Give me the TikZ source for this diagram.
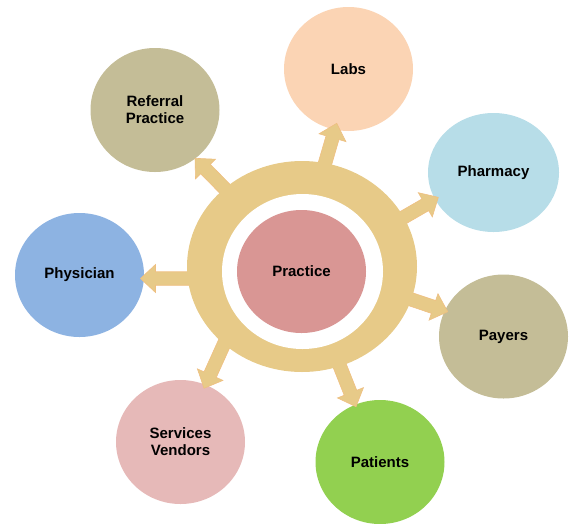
\documentclass[tikz,border=0pt]{standalone}
\usepackage{fontspec}
\setmainfont{Liberation Sans}
\usetikzlibrary{shapes.geometric,calc}
\definecolor{gold}{HTML}{E7CA88}
\definecolor{goldline}{HTML}{EFBF82}
\definecolor{practicec}{HTML}{D99694}
\definecolor{labsc}{HTML}{FBD4B4}
\definecolor{khaki}{HTML}{C4BD97}
\definecolor{pharmc}{HTML}{B7DDE8}
\definecolor{physc}{HTML}{8DB3E2}
\definecolor{servc}{HTML}{E6B9B8}
\definecolor{patc}{HTML}{92D050}
\tikzset{
  sat/.style={ellipse, minimum width=129pt, minimum height=124pt, inner sep=0pt,
    align=center, font=\fontsize{15}{17.25}\selectfont\bfseries, text=black},
  fatarrowstyle/.style={fill=gold, draw=goldline, line width=0.6pt, line join=miter}
}
\newcommand\fatarrowdraw[2]{%
  \draw[fatarrowstyle] let \p1=(#1), \p2=(#2), \n1={atan2(\y2-\y1,\x2-\x1)} in
    (\p2) -- ($(\p2)+(\n1:-15pt)+(\n1+90:14pt)$)
    -- ($(\p2)+(\n1:-15pt)+(\n1+90:6.75pt)$)
    -- ($(\p1)+(\n1+90:6.75pt)$)
    -- ($(\p1)+(\n1-90:6.75pt)$)
    -- ($(\p2)+(\n1:-15pt)+(\n1-90:6.75pt)$)
    -- ($(\p2)+(\n1:-15pt)+(\n1-90:14pt)$) -- cycle;
}
\begin{document}
\begin{tikzpicture}[x=1pt,y=-1pt]
\useasboundingbox (0,0) rectangle (570,523);
% satellites
\node[sat, fill=labsc] (labs) at (348.5,69) {Labs};
\node[sat, fill=khaki] (referral) at (155,110) {Referral\\Practice};
\node[sat, fill=pharmc, minimum width=131pt, minimum height=119pt] (pharmacy) at (493.5,172.5) {Pharmacy};
\node[sat, fill=physc] (physician) at (79.5,275) {Physician};
\node[sat, fill=khaki] (payers) at (503.5,336.5) {Payers};
\node[sat, fill=servc] (services) at (180.5,442) {Services\\Vendors};
\node[sat, fill=patc] (patients) at (380,462) {Patients};
% arrow coordinates
\coordinate (tPhys) at (140.5,278.5);  \coordinate (sPhys) at (205.5,278.5);
\coordinate (tLabs) at (336.7,123.3);  \coordinate (sLabs) at (318.5,185.7);
\coordinate (tPharm) at (438.3,197.3); \coordinate (sPharm) at (382,229.8);
\coordinate (tPay) at (447.7,311.7);   \coordinate (sPay) at (385.9,290.9);
\coordinate (tRef) at (195,158.3);     \coordinate (sRef) at (240.5,204.7);
\coordinate (tServ) at (204,388.3);    \coordinate (sServ) at (230.7,329.2);
\coordinate (tPat) at (356,406.7);     \coordinate (sPat) at (332,346.3);
\fatarrowdraw{sPhys}{tPhys}
\fatarrowdraw{sLabs}{tLabs}
\fatarrowdraw{sPharm}{tPharm}
\fatarrowdraw{sPay}{tPay}
\fatarrowdraw{sRef}{tRef}
\fatarrowdraw{sServ}{tServ}
\fatarrowdraw{sPat}{tPat}
% ring
\node[ellipse, minimum width=230pt, minimum height=211pt, inner sep=0pt, fill=gold] (ring) at (302,266.5) {};
\node[ellipse, minimum width=161pt, minimum height=155pt, inner sep=0pt, fill=white] (hole) at (302.5,271.5) {};
\node[sat, fill=practicec, minimum width=129pt, minimum height=123pt] (practice) at (301.5,271.5) {Practice};
\end{tikzpicture}
\end{document}
